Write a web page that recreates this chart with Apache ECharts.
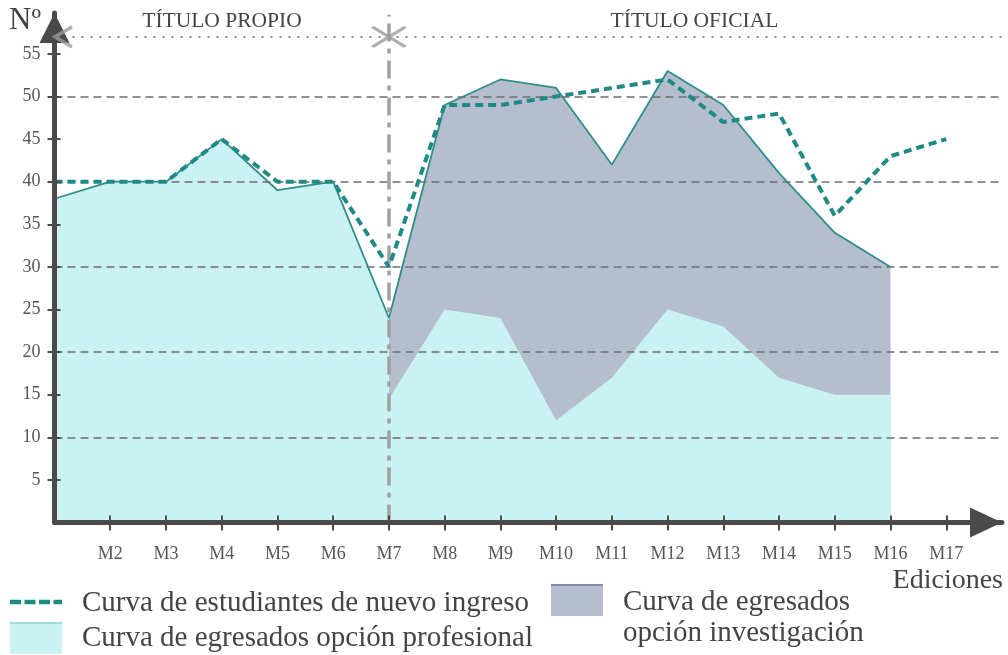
<!DOCTYPE html>
<html>
<head>
<meta charset="utf-8">
<script src="https://cdn.jsdelivr.net/npm/echarts@6/dist/echarts.min.js"></script>
<style>
html,body{margin:0;padding:0;background:#fff;}
#chart{width:1008px;height:655px;}
</style>
</head>
<body>
<div id="chart"></div>
<script>
// ---- data ----
const editions = ['M1','M2','M3','M4','M5','M6','M7','M8','M9','M10','M11','M12','M13','M14','M15','M16','M17'];
const nuevoIngreso = [40,40,40,45,40,40,30,49,49,50,51,52,47,48,36,43,45];
const egresadosTotal = [38,40,40,45,39,40,24,49,52,51,42,53,49,41,34,30];
const egresadosProfesional = [38,40,40,45,39,40,14.5,25,24,12,17,25,23,17,15,15];
const yTickValues = [5,10,15,20,25,30,35,40,45,50,55];
const gridValues = [10,20,30,40,50];
const limitValue = 57;          // dotted upper line
const cambioEdicion = 'M7';     // start of "Título oficial"
const periodTitles = ['TÍTULO PROPIO','TÍTULO OFICIAL'];
const legendNames = ['Curva de estudiantes de nuevo ingreso','Curva de egresados opción profesional','Curva de egresados\nopción investigación'];
const xName = 'Ediciones';
const yName = 'Nº';

// ---- derived ----
const xs = editions.map((e,i)=>i+1);
const xTickValues = xs.slice(1);
const changeX = editions.indexOf(cambioEdicion) + 1;
const ci = changeX - 1;
const pair = (arr, from, to) => arr.slice(from, to).map((v,k)=>[from + k + 1, v]);
const totalLine = pair(egresadosTotal, 0, egresadosTotal.length);
const investigacionArea = pair(egresadosTotal, ci, egresadosTotal.length);
const profesionalArea = pair(egresadosTotal, 0, ci + 1).concat(pair(egresadosProfesional, ci, egresadosProfesional.length));
const nuevoLine = pair(nuevoIngreso, 0, nuevoIngreso.length);

const FONT = "'Liberation Serif','DejaVu Serif',serif";
const AXIS = '#4a4a4a';
const TEAL = '#2e8e88';
const TEAL_D = '#1f8a85';
const CYAN = '#cbf2f2';
const NAVY = '#b5bece';

const chart = echarts.init(document.getElementById('chart'), null, {renderer:'canvas'});

const gridMarks = gridValues.map(v => ({yAxis: v, lineStyle:{color:'#6e6e6e', width:1.6, type:[8,5]}}));
gridMarks.push({yAxis: limitValue, lineStyle:{color:'#8a8a8a', width:2, type:[2,7]}});
gridMarks.push([{coord:[changeX,0], lineStyle:{color:'#a0a0a0', width:3.5, type:[18,7,5,7]}},{coord:[changeX,59.6]}]);

const option = {
  animation:false,
  backgroundColor:'#fff',
  grid:{left:54.5, right:6, top:13, bottom:132.5, outerBoundsMode:'none', containLabel:false},
  xAxis:[{
    type:'value', min:1, max:18, position:'bottom', z:10,
    axisLine:{show:true, onZero:false, lineStyle:{color:AXIS, width:5}, symbol:['none','triangle'], symbolSize:[30,32], symbolOffset:[0,-16]},
    axisTick:{show:true, length:8, customValues:xTickValues, lineStyle:{color:AXIS, width:2}},
    axisLabel:{show:true, customValues:xTickValues, margin:23, formatter:v=>editions[Math.round(v)-1], color:'#555', fontFamily:FONT, fontSize:18},
    splitLine:{show:false}
  },{
    type:'value', min:1, max:18, position:'bottom', z:10,
    axisLine:{show:false},
    axisTick:{show:true, inside:true, length:7, customValues:xTickValues, lineStyle:{color:AXIS, width:2}},
    axisLabel:{show:false}, splitLine:{show:false}
  }],
  yAxis:[{
    type:'value', min:0, max:59.8, position:'left', z:10,
    axisLine:{show:true, onZero:false, lineStyle:{color:AXIS, width:5}, symbol:['none','triangle'], symbolSize:[30,30], symbolOffset:[0,-15]},
    axisTick:{show:true, length:7, customValues:yTickValues, lineStyle:{color:AXIS, width:2}},
    axisLabel:{show:true, customValues:yTickValues, margin:14, color:'#555', fontFamily:FONT, fontSize:18},
    splitLine:{show:false}
  },{
    type:'value', min:0, max:59.8, position:'left', z:10,
    axisLine:{show:false},
    axisTick:{show:true, inside:true, length:6, customValues:yTickValues, lineStyle:{color:AXIS, width:2}},
    axisLabel:{show:false}, splitLine:{show:false}
  }],
  series:[
    {name:'investigacion', type:'line', z:1, data:investigacionArea, symbol:'none',
      lineStyle:{width:0}, areaStyle:{color:NAVY, opacity:1}},
    {name:'profesional', type:'line', z:2, data:profesionalArea, symbol:'none',
      lineStyle:{width:0}, areaStyle:{color:CYAN, opacity:1}},
    {name:'grid', type:'line', z:3, data:[], markLine:{silent:true, symbol:['none','none'], label:{show:false}, data:gridMarks}},
    {name:'total', type:'line', z:4, data:totalLine, symbol:'none', lineStyle:{color:TEAL, width:1.8}},
    {name:'nuevo', type:'line', z:5, data:nuevoLine, symbol:'none', lineStyle:{color:TEAL_D, width:4, type:[8,5]}},
    {name:'cruz', type:'scatter', z:20, data:[[changeX, limitValue]], symbol:'path://M0,0L33,20M0,20L33,0', symbolSize:[33,20],
      itemStyle:{color:'rgba(0,0,0,0)', borderColor:'#9a9a9a', borderWidth:3.5}, silent:true},
    {name:'cruz0', type:'scatter', z:20, data:[[1, limitValue]], symbol:'path://M17,0L0,10L17,20', symbolSize:[17,20], symbolOffset:[9,0],
      itemStyle:{color:'rgba(0,0,0,0)', borderColor:'#9a9a9a', borderWidth:3.5}, silent:true}
  ],
  graphic:[
    {type:'text', left:9, top:5, style:{text:yName, font:`31px ${FONT}`, fill:'#444'}},
    {type:'text', x:222, y:21, style:{text:periodTitles[0], font:`21.5px ${FONT}`, fill:'#444', align:'center', verticalAlign:'middle'}},
    {type:'text', x:694.5, y:21, style:{text:periodTitles[1], font:`21.5px ${FONT}`, fill:'#444', align:'center', verticalAlign:'middle'}},
    {type:'text', x:1003, y:581, style:{text:xName, font:`28px ${FONT}`, fill:'#444', align:'right', verticalAlign:'middle'}},
    // legend
    {type:'line', shape:{x1:10, y1:602, x2:62, y2:602}, style:{stroke:TEAL_D, lineWidth:4.5, lineDash:[11,3.5]}},
    {type:'text', x:82, y:603.5, style:{text:legendNames[0], font:`29px ${FONT}`, fill:'#444', verticalAlign:'middle'}},
    {type:'rect', shape:{x:10, y:622, width:52, height:32}, style:{fill:CYAN}},
    {type:'line', shape:{x1:10, y1:623, x2:62, y2:623}, style:{stroke:'#8fd4d2', lineWidth:1.5}},
    {type:'text', x:82, y:638, style:{text:legendNames[1], font:`29px ${FONT}`, fill:'#444', verticalAlign:'middle'}},
    {type:'rect', shape:{x:551, y:584, width:52, height:32}, style:{fill:NAVY}},
    {type:'line', shape:{x1:551, y1:585, x2:603, y2:585}, style:{stroke:'#6f7d96', lineWidth:1.5}},
    {type:'text', x:623, y:602, style:{text:legendNames[2].split('\n')[0], font:`29px ${FONT}`, fill:'#444', verticalAlign:'middle'}},
    {type:'text', x:623, y:633, style:{text:legendNames[2].split('\n')[1], font:`29px ${FONT}`, fill:'#444', verticalAlign:'middle'}}
  ]
};
chart.setOption(option);
</script>
</body>
</html>
